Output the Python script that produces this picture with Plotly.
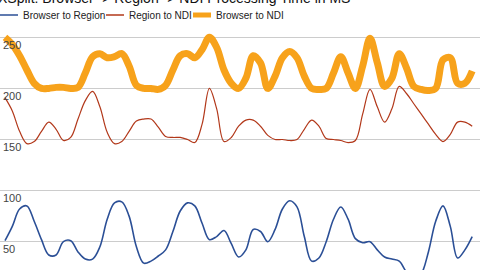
import plotly.graph_objects as go

title = "XSplit: Browser -> Region -> NDI Processing Time in MS"
series_names = ["Browser to Region", "Region to NDI", "Browser to NDI"]

browser_to_region = [51, 65, 82, 85, 70, 52, 37, 37, 50, 51, 40, 33, 33, 45, 72, 88, 89, 75, 45, 29,
                     31, 36, 42, 60, 80, 88, 85, 68, 52, 55, 61, 48, 35, 42, 62, 60, 50, 62, 82, 90,
                     84, 55, 31, 34, 50, 72, 84, 72, 53, 49, 50, 42, 35, 33, 31, 20, 12, 18, 40, 70,
                     85, 65, 34, 42, 55]
region_to_ndi = [191, 178, 158, 146, 148, 158, 167, 160, 149, 152, 170, 188, 197, 182, 157, 146, 148, 158, 168, 170,
                 170, 162, 153, 152, 152, 150, 147, 165, 200, 180, 148, 152, 163, 169, 169, 163, 154, 150, 150, 149,
                 150, 160, 169, 163, 151, 150, 149, 147, 149, 175, 199, 182, 167, 180, 202, 195, 185, 175, 165, 155,
                 148, 155, 167, 167, 163]
browser_to_ndi = [250, 243, 232, 218, 205, 200, 200, 201, 201, 200, 201, 215, 231, 234, 230, 231, 234, 222, 203, 200,
                  200, 199, 203, 218, 232, 234, 230, 238, 250, 240, 218, 205, 200, 210, 232, 225, 200, 212, 230, 236,
                  230, 212, 200, 199, 200, 215, 231, 215, 200, 222, 249, 225, 202, 210, 234, 220, 202, 199, 198, 200,
                  228, 230, 205, 205, 217]
y_ticks = [50, 100, 150, 200, 250]

x = list(range(len(browser_to_ndi)))
colors = ["#2b4f96", "#b2381a", "#f7a21b"]
widths = [1.6, 1.2, 7]
values = [browser_to_region, region_to_ndi, browser_to_ndi]

fig = go.Figure()
for name, vals, c, w in zip(series_names, values, colors, widths):
    fig.add_trace(go.Scatter(x=x, y=vals, name=name, mode="lines",
                             line=dict(color=c, width=w, shape="spline", smoothing=1.0),
                             showlegend=False))

px_per = 7.3
fig.update_layout(
    width=480, height=270,
    margin=dict(l=0, r=0, t=0, b=0),
    paper_bgcolor="white", plot_bgcolor="white",
    xaxis=dict(range=[-5 / px_per, (480 - 5) / px_per], visible=False),
    yaxis=dict(range=[22.3, 286.5], tickvals=y_ticks, showgrid=True, gridcolor="#cccccc",
               gridwidth=1, zeroline=False, ticklabelposition="inside bottom",
               tickfont=dict(family="Liberation Sans, Arial", size=11, color="#444444"),
               ticks=""),
    showlegend=False,
)

# title (cropped at top in the reference)
fig.add_annotation(text=title, xref="paper", yref="paper", x=-4 / 480, y=1 + 12 / 270,
                   xanchor="left", yanchor="top", showarrow=False,
                   font=dict(family="Liberation Sans, Arial", size=14, color="#111111"))

# legend drawn manually
leg_y = 1 - 15 / 270
sym_x = [0, 106, 193]
for i, (name, c) in enumerate(zip(series_names, colors)):
    x0 = sym_x[i]
    fig.add_shape(type="line", xref="paper", yref="paper", x0=x0 / 480, x1=(x0 + 18) / 480,
                  y0=leg_y, y1=leg_y, line=dict(color=c, width=1.5 if i < 2 else 5))
    fig.add_annotation(text=name, xref="paper", yref="paper", x=(x0 + 21) / 480, y=leg_y,
                       xanchor="left", yanchor="middle", showarrow=False,
                       font=dict(family="Liberation Sans, Arial", size=10, color="#222222"))

fig.write_html("out.html")
